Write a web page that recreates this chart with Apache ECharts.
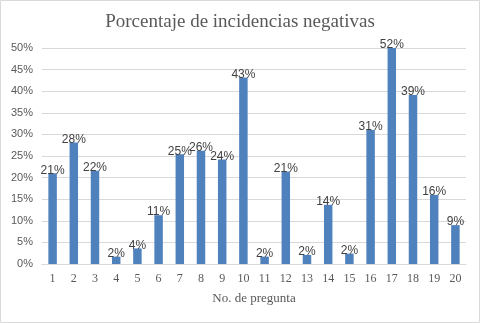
<!DOCTYPE html>
<html>
<head>
<meta charset="utf-8">
<script src="https://cdn.jsdelivr.net/npm/echarts@6/dist/echarts.min.js"></script>
<style>
  html, body { margin: 0; padding: 0; background: #fff; }
  #chart { width: 480px; height: 323px; }
</style>
</head>
<body>
<div id="chart"></div>
<script>
// Question numbers on the x axis
const preguntas = ['1','2','3','4','5','6','7','8','9','10','11','12','13','14','15','16','17','18','19','20'];
// Share of negative incidents per question (fraction of 1)
const porcentajes = [0.210, 0.281, 0.216, 0.017, 0.036, 0.113, 0.254, 0.262, 0.242, 0.432,
                     0.017, 0.214, 0.021, 0.137, 0.024, 0.310, 0.520, 0.391, 0.160, 0.090];
const tituloTexto = 'Porcentaje de incidencias negativas';
const ejeXNombre = 'No. de pregunta';
const ejeYMax = 0.5;
const ejeYPaso = 0.05;

const chart = echarts.init(document.getElementById('chart'));
const pct = v => Math.round(v * 100) + '%';

chart.setOption({
  animation: false,
  backgroundColor: '#ffffff',
  graphic: [{
    type: 'rect',
    shape: { x: 0.5, y: 0.5, width: 479, height: 322 },
    style: { fill: 'none', stroke: '#d9d9d9', lineWidth: 1 },
    silent: true
  }],
  title: {
    text: tituloTexto,
    left: 'center',
    top: 8,
    textStyle: {
      fontFamily: 'Liberation Serif, serif',
      fontWeight: 'normal',
      fontSize: 19,
      color: '#595959'
    }
  },
  grid: { left: 42, right: 14, top: 48, bottom: 59 },
  xAxis: {
    type: 'category',
    data: preguntas,
    name: ejeXNombre,
    nameLocation: 'middle',
    nameGap: 28,
    nameTextStyle: { fontFamily: 'Liberation Serif, serif', fontSize: 13, color: '#595959' },
    axisTick: { show: false },
    axisLine: { lineStyle: { color: '#d9d9d9' } },
    axisLabel: { fontFamily: 'Liberation Serif, serif', fontSize: 12, color: '#595959', margin: 9 }
  },
  yAxis: {
    type: 'value',
    min: 0,
    max: ejeYMax,
    interval: ejeYPaso,
    axisLine: { show: false },
    axisTick: { show: false },
    splitLine: { lineStyle: { color: '#d9d9d9' } },
    axisLabel: {
      formatter: pct,
      fontFamily: 'Liberation Sans, sans-serif',
      fontSize: 11,
      color: '#595959',
      margin: 9
    }
  },
  series: [{
    type: 'bar',
    data: porcentajes,
    barWidth: '40%',
    clip: true,
    itemStyle: { color: '#4f81bd' },
    label: {
      show: true,
      position: 'top',
      distance: -3,
      formatter: p => pct(p.value),
      fontFamily: 'Liberation Sans, sans-serif',
      fontSize: 12,
      color: '#404040'
    }
  }]
});
</script>
</body>
</html>
